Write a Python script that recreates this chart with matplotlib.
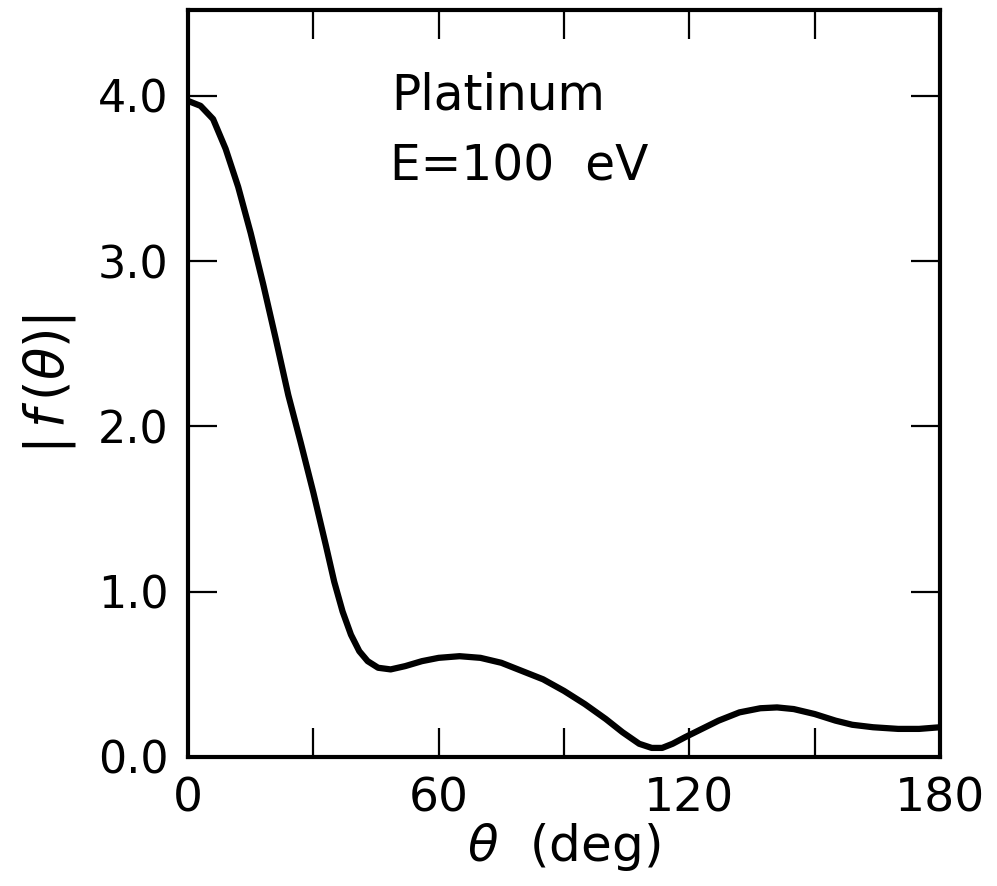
import numpy as np
import matplotlib.pyplot as plt

# |f(theta)| for platinum at E = 100 eV
theta = [0, 3, 6, 9, 12, 15, 18, 21, 24, 27, 30, 33, 35, 37, 39, 41, 43,
         45.5, 48.5, 52, 56, 60, 65, 70, 75, 80, 85, 90, 95, 100, 104, 108,
         111, 113.5, 116, 119, 123, 127, 132, 137, 141, 145, 150, 155, 159,
         164, 170, 175, 180]
f_abs = [3.97, 3.94, 3.86, 3.68, 3.45, 3.17, 2.86, 2.53, 2.19, 1.90, 1.60,
         1.28, 1.06, 0.88, 0.74, 0.64, 0.58, 0.54, 0.53, 0.55, 0.58, 0.60,
         0.61, 0.60, 0.57, 0.52, 0.47, 0.40, 0.32, 0.23, 0.15, 0.08, 0.055,
         0.055, 0.08, 0.12, 0.17, 0.22, 0.27, 0.295, 0.30, 0.29, 0.26, 0.22,
         0.195, 0.18, 0.17, 0.17, 0.18]

xticks = [0, 30, 60, 90, 120, 150, 180]
xlabels = ['0', '', '60', '', '120', '', '180']
yticks = [0, 1, 2, 3, 4]
ylabels = ['0.0', '1.0', '2.0', '3.0', '4.0']

plt.rcParams['font.family'] = ['DejaVu Sans']

fig = plt.figure(figsize=(9.97, 8.86), dpi=100)
ax = fig.add_axes([0.1886, 0.1456, 0.7542, 0.8431])

ax.plot(theta, f_abs, color='black', lw=4.5, solid_capstyle='round',
        solid_joinstyle='round')

ax.set_xlim(0, 180)
ax.set_ylim(0, 4.52)
ax.set_xticks(xticks)
ax.set_xticklabels(xlabels, fontsize=34)
ax.set_yticks(yticks)
ax.set_yticklabels(ylabels, fontsize=32)
ax.tick_params(axis='both', direction='in', length=21, width=1.6,
               top=True, right=True)
ax.tick_params(axis='x', pad=14)
ax.tick_params(axis='y', pad=14)
for s in ax.spines.values():
    s.set_linewidth(3)

ax.set_xlabel(r'$\theta$  (deg)', fontsize=36, labelpad=0)
ax.set_ylabel(r'$|\,f\,(\theta)|$', fontsize=38, labelpad=14)

ax.text(0.27, 0.885, 'Platinum', transform=ax.transAxes, fontsize=35,
        ha='left', va='center')
ax.text(0.268, 0.79, 'E=100  eV', transform=ax.transAxes, fontsize=35,
        ha='left', va='center')

fig.savefig('out.png', dpi=100)
